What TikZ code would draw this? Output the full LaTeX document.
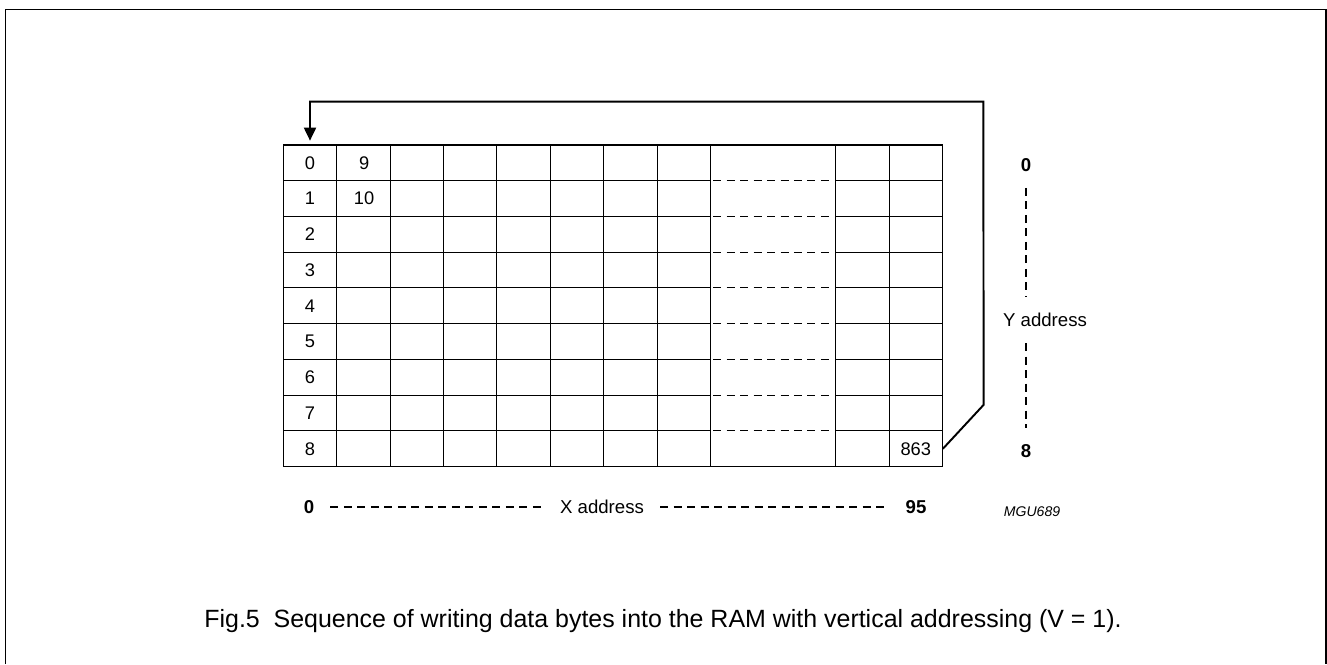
\documentclass[tikz,border=0pt]{standalone}
\usepackage{fontspec}
\setmainfont{Liberation Sans}
\usepackage{tikz}
\usetikzlibrary{positioning}
\usetikzlibrary{arrows.meta}
\tikzstyle{ramPicture} = [x = 0.02cm, y = -0.02cm]
\tikzstyle{gridLine} = [color=black, line width=0.6pt]
\tikzstyle{gapLine} = [color=black, line width=0.6pt, dash pattern=on 0.16cm off 0.11cm]
\tikzstyle{loopArrow} = [color=black, line width=1.1pt, -{Triangle[width=0.24cm, length=0.26cm]}, shorten >=0.08cm]
\tikzstyle{cellText} = [font=\fontsize{10.4}{12}\selectfont, minimum width=1.068cm, minimum height=0.715cm, inner sep=0]
\tikzstyle{axisLabel} = [font=\fontsize{10.6}{12}\selectfont]
\tikzstyle{axisEnd} = [font=\fontsize{10.6}{12}\selectfont\bfseries]
\tikzstyle{axisDash} = [color=black, line width=0.6pt, dash pattern=on 0.16cm off 0.11cm, shorten >=0.2cm, shorten <=0.2cm]
\tikzstyle{frameLine} = [color=black, line width=0.9pt]
\newcommand{\gridLeft}{283.3}
\newcommand{\gridTop}{145}
\newcommand{\gridRight}{942.5}
\newcommand{\gridBottom}{466.7}
\newcommand{\colWidth}{53.4}
\newcommand{\rowHeight}{35.74}
\newcommand{\gapLeft}{710.5}
\newcommand{\gapRight}{835.7}
\newcommand{\ramGridLines}{
  \draw [gridLine] (\gridLeft, \gridTop) rectangle (\gridRight, \gridBottom);
  \foreach \column in {1,...,8} {
    \pgfmathsetmacro{\var}{\gridLeft + \column * \colWidth}
    \draw [gridLine] (\var, \gridTop) -- (\var, \gridBottom);
  }
  \foreach \var in {\gapRight, 889.1} {
    \draw [gridLine] (\var, \gridTop) -- (\var, \gridBottom);
  }
  \foreach \row in {1,...,8} {
    \pgfmathsetmacro{\var}{\gridTop + \row * \rowHeight}
    \draw [gridLine] (\gridLeft, \var) -- (\gapLeft, \var);
    \draw [gapLine] (\gapLeft + 2.5, \var) -- (\gapRight - 2.5, \var);
    \draw [gridLine] (\gapRight, \var) -- (\gridRight, \var);
  }
}

\begin{document}
\begin{tikzpicture}[ramPicture]
  \useasboundingbox (0, 0) rectangle (1327, 664);
  \draw [frameLine] (5.5, 664) -- (5.5, 9.5) -- (1325.8, 9.5) -- (1325.8, 664);

  \ramGridLines
  \foreach \row in {0,...,8} {
    \node [cellText] (rowLabel\row) at (\gridLeft + 0.5 * \colWidth, \gridTop + \row * \rowHeight + 0.5 * \rowHeight) {\row};
  }
  \node [cellText, right=0cm of rowLabel0] (cellNine) {9};
  \node [cellText, right=0cm of rowLabel1] (cellTen) {10};
  \node [cellText] (cellLast) at (889.1 + 0.5 * \colWidth, \gridTop + 8.5 * \rowHeight) {863};

  % write order wraps back to the first byte
  \coordinate (loopCorner) at (983.3, 101.7);
  \draw [loopArrow] (cellLast.east) -- ++(40.8, -44) -- (loopCorner) -| (rowLabel0.north);

  \node [axisEnd] (yTop) at (1026, 165) {0};
  \node [axisEnd] (yBottom) at (1026, 450.7) {8};
  \node [axisLabel] (yLabel) at (1045, 320) {Y address};
  \draw [axisDash] (yTop) -- (yTop |- yLabel.north);
  \draw [axisDash] (yTop |- yLabel.south) -- (yBottom);

  \node [axisEnd] (xStart) at (309, 507) {0};
  \node [axisLabel] (xLabel) at (602, 507) {X address};
  \node [axisEnd] (xEnd) at (916, 507) {95};
  \draw [axisDash] (xStart) -- (xLabel);
  \draw [axisDash] (xLabel) -- (xEnd);

  \node [font=\fontsize{8}{10}\selectfont\itshape] (figCode) at (1032, 512) {MGU689};
  \node [font=\fontsize{14.2}{17}\selectfont, anchor=west, inner sep=0] (figCaption) at (204, 621) {Fig.5\hspace{0.556em}Sequence of writing data bytes into the RAM with vertical addressing (V = 1).};
\end{tikzpicture}
\end{document}
